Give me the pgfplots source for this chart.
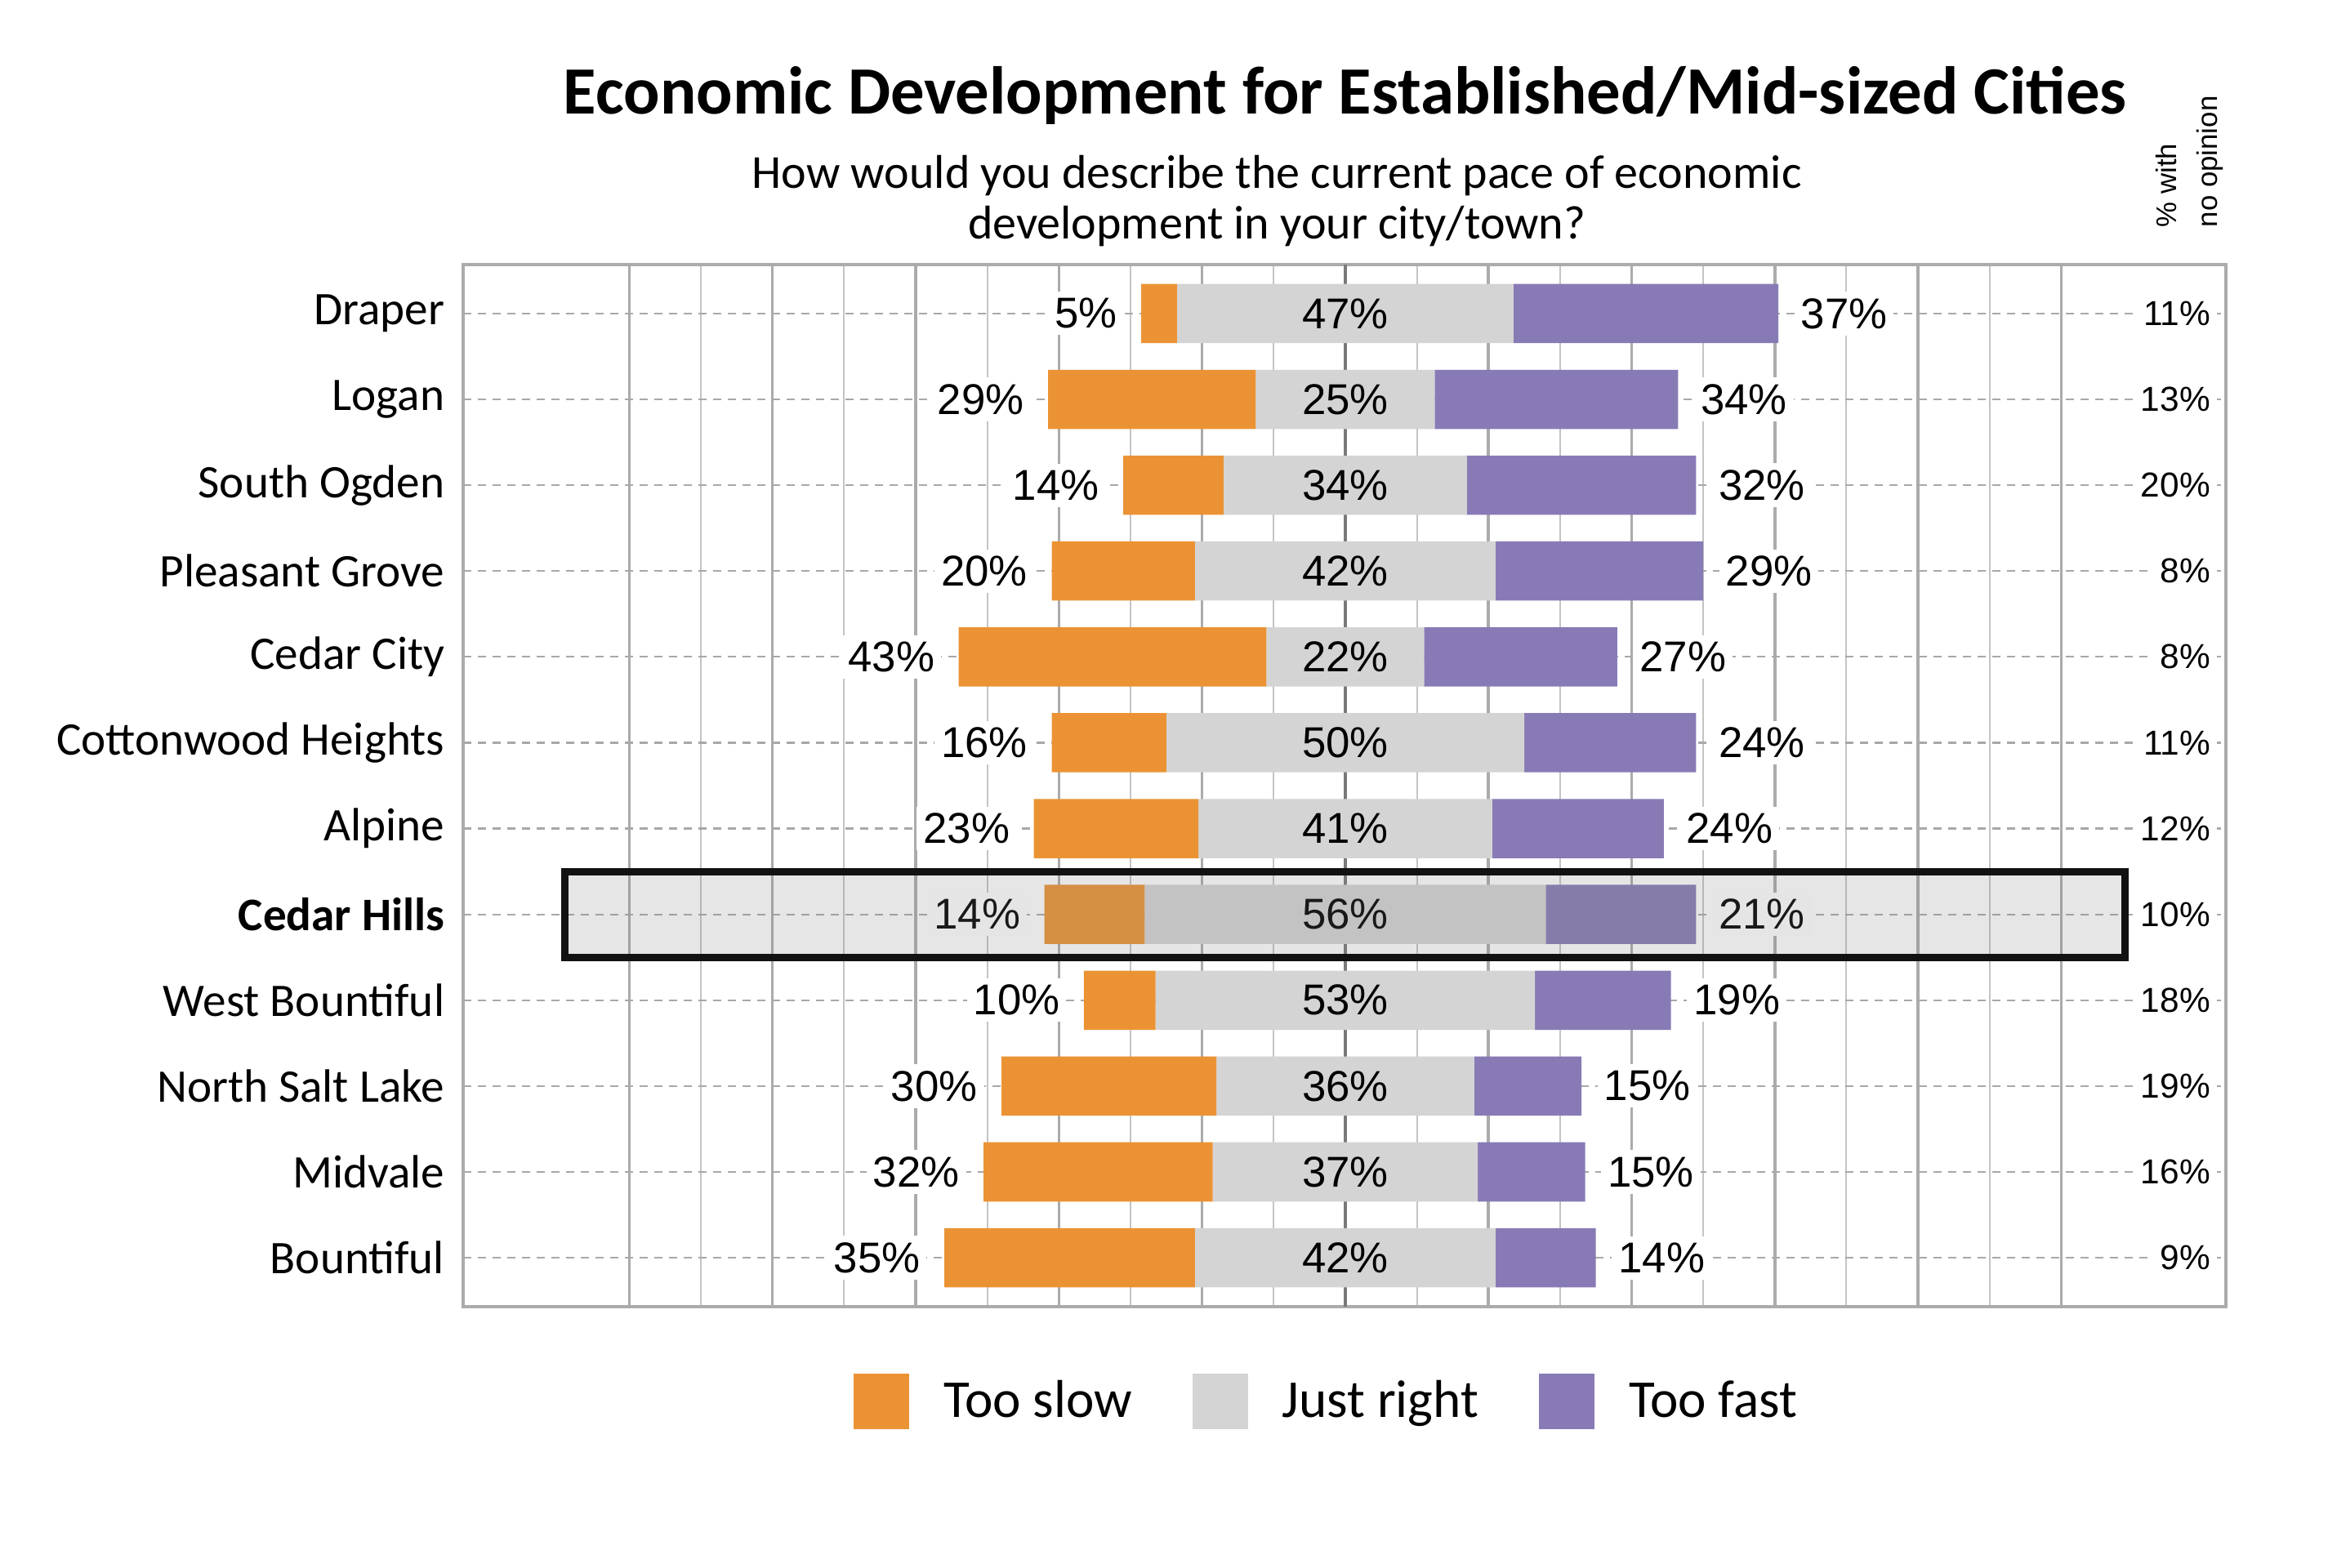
\documentclass[border=0pt]{standalone}
\usepackage{fontspec}
\setmainfont{Carlito}
\newfontfamily\arial{Liberation Sans}
\usepackage{pgfplots}
\usepackage{pgfplotstable}
\pgfplotsset{compat=1.18}

\definecolor{cTS}{HTML}{EB9334}
\definecolor{cJR}{HTML}{D4D4D4}
\definecolor{cTF}{HTML}{887BB5}
\definecolor{cFrame}{HTML}{ABABAB}
\definecolor{cMajor}{HTML}{ABABAB}
\definecolor{cMinor}{HTML}{C4C4C4}
\definecolor{cCenter}{HTML}{7A7A7A}
\definecolor{cDash}{HTML}{A8A8A8}
\definecolor{cShade}{HTML}{808080}

\newcommand\lbl{\arial\fontsize{13.2bp}{15bp}\selectfont}
\newcommand\nolbl{\arial\fontsize{10.6bp}{12bp}\selectfont}

\pgfplotstableread{
y ts jr tf no
0 5 47 37 11
1 29 25 34 13
2 14 34 32 20
3 20 42 29 8
4 43 22 27 8
5 16 50 24 11
6 23 41 24 12
7 14 56 21 10
8 10 53 19 18
9 30 36 15 19
10 32 37 15 16
11 35 42 14 9
}\data

\pgfplotsset{
  base/.style={
    width=539.5bp, height=319bp, scale only axis,
    at={(141.75bp,80bp)}, anchor=south west,
    xmin=-123.2, xmax=123, ymin=-0.57, ymax=11.57, y dir=reverse,
  }
}

\begin{document}
\begin{tikzpicture}
\useasboundingbox (0,0) rectangle (712.5bp,480bp);

\begin{axis}[base,
  xbar stacked, stack negative=on previous, bar width=0.69,
  axis line style={draw=cFrame, line width=1.2bp},
  xtick={-100,-80,-60,-40,-20,20,40,60,80,100},
  minor xtick={-90,-70,-50,-30,-10,10,30,50,70,90},
  xticklabels={},
  extra x ticks={0}, extra x tick labels={},
  extra x tick style={grid=major, major x grid style={draw=cCenter, line width=1.1bp}},
  ytick={0,...,11},
  yticklabels={Draper, Logan, South Ogden, Pleasant Grove, Cedar City, Cottonwood Heights, Alpine, \textbf{Cedar Hills}, West Bountiful, North Salt Lake, Midvale, Bountiful},
  xmajorgrids, xminorgrids, ymajorgrids,
  major x grid style={draw=cMajor, line width=0.85bp},
  minor x grid style={draw=cMinor, line width=0.5bp},
  major y grid style={draw=cDash, line width=0.55bp, dash pattern=on 2.6bp off 1.9bp},
  tick style={draw=none},
  major tick length=0pt, minor tick length=0pt,
  yticklabel style={font=\fontsize{14.3bp}{16bp}\selectfont, inner sep=0pt, xshift=-5.5bp},
]
\addplot[draw=none, fill=none] table[x expr=-(\thisrow{jr}/2+\thisrow{ts}), y=y]{\data};
\addplot[fill=cTS, draw=none] table[x=ts, y=y]{\data};
\addplot[fill=cJR, draw=none] table[x=jr, y=y]{\data};
\addplot[fill=cTF, draw=none] table[x=tf, y=y]{\data};
\end{axis}

% in-bar labels
\begin{axis}[base, hide axis, clip=false,
  legend style={draw=none, fill=none, at={(0.491,-0.0909)}, anchor=center,
    legend columns=3, font=\fontsize{16.3bp}{19bp}\selectfont,
    /tikz/every even column/.append style={column sep=16.5bp},
    /tikz/every odd column/.append style={column sep=8.5bp}},
  legend image code/.code={\fill[#1] (0bp,-8.5bp) rectangle (17bp,8.5bp);},
]
\addplot[forget plot, only marks, mark=none, point meta=explicit symbolic,
  nodes near coords={\pgfplotspointmeta\%},
  nodes near coords style={anchor=east, xshift=-5.2bp, fill=white, inner sep=2bp, font=\lbl, text=black}]
  table[x expr=-(\thisrow{jr}/2+\thisrow{ts}), y=y, meta=ts]{\data};
\addplot[forget plot, only marks, mark=none, point meta=explicit symbolic,
  nodes near coords={\pgfplotspointmeta\%},
  nodes near coords style={anchor=center, inner sep=2bp, font=\lbl, text=black}]
  table[x expr=0, y=y, meta=jr]{\data};
\addplot[forget plot, only marks, mark=none, point meta=explicit symbolic,
  nodes near coords={\pgfplotspointmeta\%},
  nodes near coords style={anchor=west, xshift=4.7bp, fill=white, inner sep=2bp, font=\lbl, text=black}]
  table[x expr=\thisrow{jr}/2+\thisrow{tf}, y=y, meta=tf]{\data};
\addlegendimage{fill=cTS, draw=none}
\addlegendentry{Too slow}
\addlegendimage{fill=cJR, draw=none}
\addlegendentry{Just right}
\addlegendimage{fill=cTF, draw=none}
\addlegendentry{Too fast}
\end{axis}

% highlight box and no-opinion column
\begin{axis}[base, hide axis, clip=false]
\draw[line width=2.25bp, draw=black!93, fill=cShade, fill opacity=0.2] (axis cs:-109,6.5) rectangle (axis cs:108.9,7.5);
\addplot[forget plot, only marks, mark=none, point meta=explicit symbolic,
  nodes near coords={\pgfplotspointmeta\%},
  nodes near coords style={anchor=east, fill=white, inner sep=2bp, font=\nolbl, text=black}]
  table[x expr=121.8, y=y, meta=no]{\data};
\end{axis}

\node[anchor=base, font=\fontsize{20.7bp}{24bp}\selectfont\bfseries, inner sep=0pt] at (411.7bp,445bp) {Economic Development for Established/Mid-sized Cities};
\node[anchor=base, font=\fontsize{14.5bp}{17bp}\selectfont, inner sep=0pt] at (390.8bp,422.3bp) {How would you describe the current pace of economic};
\node[anchor=base, font=\fontsize{14.5bp}{17bp}\selectfont, inner sep=0pt] at (390.8bp,406.8bp) {development in your city/town?};
\node[rotate=90, anchor=west, align=left, font=\arial\fontsize{8.7bp}{12.5bp}\selectfont, inner sep=0pt] at (670.2bp,410.25bp) {\% with\\no opinion};
\end{tikzpicture}
\end{document}
